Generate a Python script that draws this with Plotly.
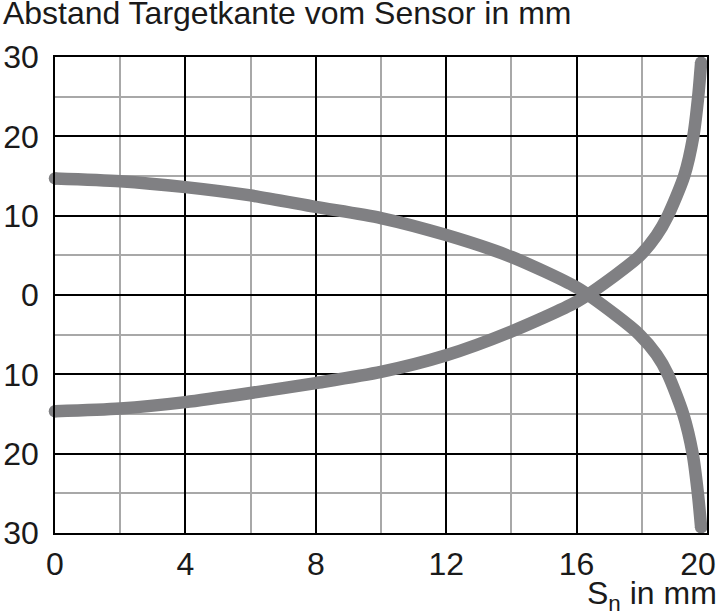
import plotly.graph_objects as go

# Descending curve (starts near +15)
x_down = [0, 2, 4, 6, 8, 10, 12, 14, 16, 17.19, 17.93, 18.45, 18.8, 19.27, 19.56, 19.72, 19.82]
y_down = [14.7, 14.35, 13.6, 12.55, 11.1, 9.7, 7.55, 4.8, 0.95, -2.5, -5, -7.5, -10, -15, -20, -25, -29.3]

# Ascending curve (starts near -15)
x_up = [0, 2, 4, 6, 8, 10, 12, 14, 16, 17.19, 17.95, 18.45, 18.8, 19.3, 19.58, 19.73, 19.82]
y_up = [-14.65, -14.3, -13.5, -12.35, -11.1, -9.7, -7.6, -4.6, -0.85, 2.5, 5, 7.5, 10, 15, 20, 25, 29.3]

x_tickvals = [0, 4, 8, 12, 16, 20]
x_ticktext = ["0", "4", "8", "12", "16", "20\u00a0\u00a0"]
y_tickvals = [-30, -20, -10, 0, 10, 20, 30]
y_ticktext = ["30", "20", "10", "0", "10", "20", "30"]

FONT = "Liberation Sans"
GRAY = "#808083"
TXT = "#1a1a1a"
LW = 12.5

fig = go.Figure()
for xs, ys in [(x_down, y_down), (x_up, y_up)]:
    fig.add_trace(go.Scatter(
        x=xs, y=ys, mode="lines",
        line=dict(color=GRAY, width=LW, shape="spline", smoothing=0.7),
        showlegend=False, hoverinfo="skip", cliponaxis=False,
    ))
    fig.add_trace(go.Scatter(
        x=[xs[0], xs[-1]], y=[ys[0], ys[-1]], mode="markers",
        marker=dict(color=GRAY, size=LW, line=dict(width=0)),
        showlegend=False, hoverinfo="skip", cliponaxis=False,
    ))

fig.update_layout(
    width=720, height=612,
    margin=dict(l=55, r=13, t=57, b=79, autoexpand=False),
    paper_bgcolor="white", plot_bgcolor="white",
    font=dict(family=FONT, size=32, color=TXT),
    title=dict(text="Abstand Targetkante vom Sensor in mm", x=0.004, xanchor="left",
               xref="container", y=0.998, yanchor="top", yref="container",
               pad=dict(t=0, l=0, b=0, r=0),
               font=dict(family=FONT, size=32, color=TXT)),
    annotations=[dict(text="S<sub>n</sub> in mm", xref="paper", yref="paper",
                      x=1.0184, y=-0.178, xanchor="right", yanchor="bottom", showarrow=False,
                      font=dict(family=FONT, size=32, color=TXT))],
)
fig.update_xaxes(
    range=[0, 20], tickvals=x_tickvals, ticktext=x_ticktext, automargin=False,
    ticklabeloverflow="allow",
    showgrid=True, gridcolor="#000000", gridwidth=1.6,
    minor=dict(dtick=2, tick0=0, showgrid=True, gridcolor="#a8a8a8", gridwidth=1.6),
    showline=True, linecolor="#000000", linewidth=1.6, mirror=True,
    zeroline=False, ticks="", ticklabelstandoff=2,
)
fig.update_yaxes(
    range=[-30, 30], tickvals=y_tickvals, ticktext=y_ticktext, automargin=False,
    ticklabeloverflow="allow",
    showgrid=True, gridcolor="#000000", gridwidth=1.6,
    minor=dict(dtick=5, tick0=0, showgrid=True, gridcolor="#a8a8a8", gridwidth=1.6),
    showline=True, linecolor="#000000", linewidth=1.6, mirror=True,
    zeroline=False, ticks="", ticklabelstandoff=8,
)
fig.write_html("out.html", config={"displayModeBar": False},
               post_script="document.body.style.margin='0';document.body.style.overflow='hidden';")
